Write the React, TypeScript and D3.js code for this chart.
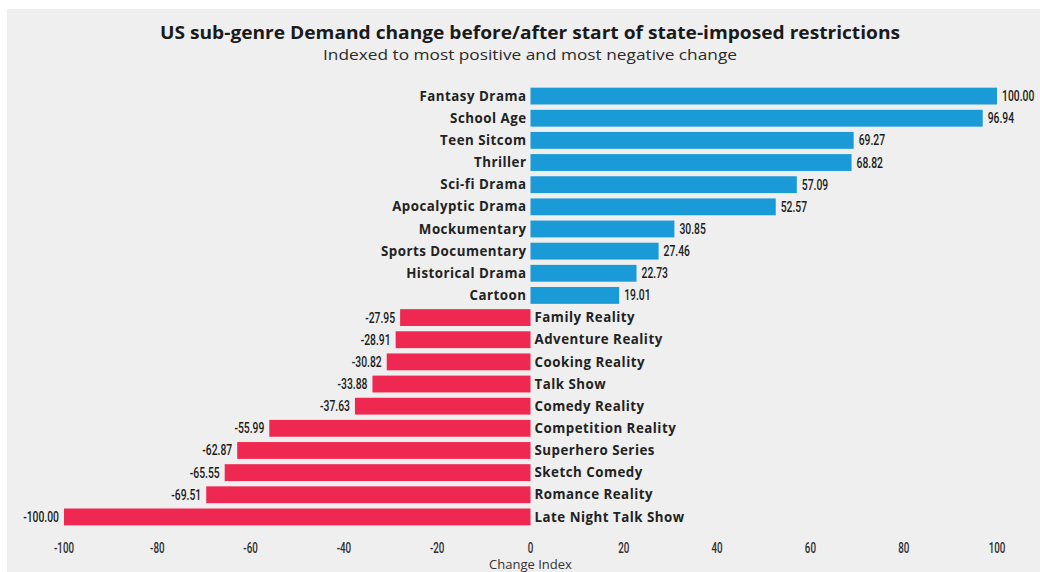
import React from "react";
import * as d3 from "d3";

const categories = [
  "Fantasy Drama", "School Age", "Teen Sitcom", "Thriller", "Sci-fi Drama",
  "Apocalyptic Drama", "Mockumentary", "Sports Documentary", "Historical Drama", "Cartoon",
  "Family Reality", "Adventure Reality", "Cooking Reality", "Talk Show", "Comedy Reality",
  "Competition Reality", "Superhero Series", "Sketch Comedy", "Romance Reality", "Late Night Talk Show",
];
const values = [
  100.0, 96.94, 69.27, 68.82, 57.09, 52.57, 30.85, 27.46, 22.73, 19.01,
  -27.95, -28.91, -30.82, -33.88, -37.63, -55.99, -62.87, -65.55, -69.51, -100.0,
];
const tickValues = [-100, -80, -60, -40, -20, 0, 20, 40, 60, 80, 100];

const W = 1040;
const H = 572;
const BLUE = "#1a9ad6";
const RED = "#ee2850";
const NARROW = "'Roboto', 'DejaVu Sans', sans-serif";
const LABEL = "'Open Sans', 'Lato', sans-serif";
const fmtVal = (v: number) => d3.format(".2f")(v).replace("\u2212", "-");
const fmtTick = (v: number) => String(v);

function NarrowText(props: {
  x: number; y: number; anchor: "start" | "middle" | "end"; size: number; sx: number; fill: string; children: string;
}) {
  return (
    <text
      transform={`translate(${props.x},${props.y}) scale(${props.sx},1)`}
      textAnchor={props.anchor}
      fontFamily={NARROW}
      fontWeight={500}
      fontSize={props.size}
      fill={props.fill}
    >
      {props.children}
    </text>
  );
}

export default function App() {
  const x = d3.scaleLinear().domain([-100, 100]).range([64, 997]);
  const y = d3.scaleBand<string>().domain(categories).range([85, 528]).paddingInner(0.24).paddingOuter(0.12);
  const bh = y.bandwidth();

  return (
    <svg width={W} height={H} style={{ position: "absolute", left: 0, top: 0, display: "block" }}>
      <rect x={0} y={0} width={W} height={H} fill="#ffffff" />
      <rect x={7} y={9} width={W - 7} height={H - 9} fill="#efefef" />
      <text x={530} y={39} textAnchor="middle" fontFamily={LABEL} fontWeight={700} fontSize={18}
        textLength={740} lengthAdjust="spacingAndGlyphs" fill="#1a1a1a">
        US sub-genre Demand change before/after start of state-imposed restrictions
      </text>
      <text x={530} y={60} textAnchor="middle" fontFamily={LABEL} fontSize={15}
        textLength={414} lengthAdjust="spacingAndGlyphs" fill="#2a2a2a">
        Indexed to most positive and most negative change
      </text>
      {categories.map((c, i) => {
        const v = values[i];
        const yy = y(c) as number;
        const x0 = x(Math.min(0, v));
        const x1 = x(Math.max(0, v));
        const pos = v >= 0;
        return (
          <g key={c}>
            <rect x={x0} y={yy} width={x1 - x0} height={bh} fill={pos ? BLUE : RED} />
            <text
              x={pos ? x(0) - 4 : x(0) + 4}
              y={yy + bh / 2}
              dy="0.35em"
              textAnchor={pos ? "end" : "start"}
              fontFamily={LABEL}
              fontWeight={700}
              fontSize={13.3}
              letterSpacing={0.5}
              fill="#222"
            >
              {c}
            </text>
            <NarrowText
              x={pos ? x1 + 5 : x0 - 5}
              y={yy + bh / 2 + 5}
              anchor={pos ? "start" : "end"}
              size={14}
              sx={0.74}
              fill="#1a1a1a"
            >
              {fmtVal(v)}
            </NarrowText>
          </g>
        );
      })}
      {tickValues.map((t) => (
        <NarrowText key={t} x={x(t)} y={553} anchor="middle" size={14} sx={0.7} fill="#2e2e2e">
          {fmtTick(t)}
        </NarrowText>
      ))}
      <text x={x(0)} y={569} textAnchor="middle" fontFamily={LABEL} fontSize={13} fill="#333">
        Change Index
      </text>
    </svg>
  );
}
